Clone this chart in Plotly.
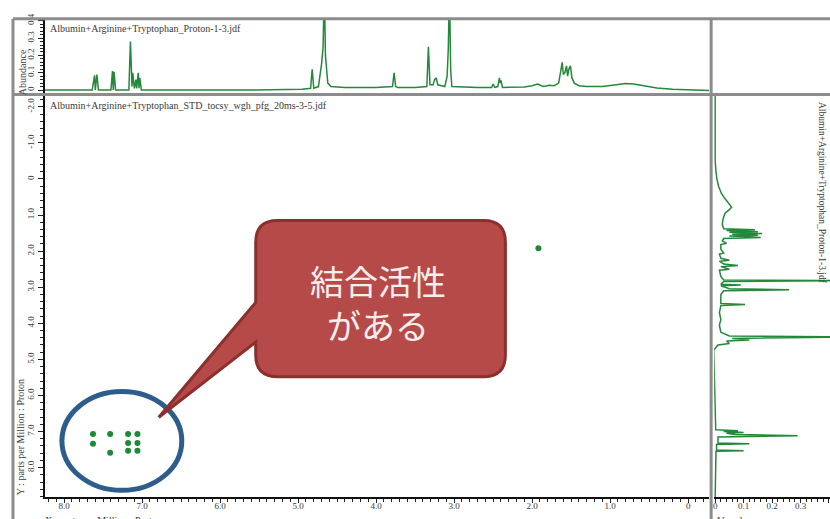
import plotly.graph_objects as go

W, H = 830, 519

# 1H spectrum projected along the top (F2 ppm, abundance)
top_ppm = [8.25, 7.64, 7.61, 7.60, 7.58, 7.56, 7.40, 7.38, 7.37, 7.36, 7.34,
           7.17, 7.15, 7.13, 7.12, 7.10, 7.08, 7.07, 7.05, 7.04, 7.03, 7.01,
           5.60, 5.20, 4.95, 4.84, 4.82, 4.80, 4.74, 4.70, 4.68, 4.665, 4.65,
           4.62, 4.58, 4.40, 4.00, 3.79, 3.77, 3.75, 3.72, 3.50, 3.35, 3.33,
           3.31, 3.27, 3.25, 3.23, 3.21, 3.12, 3.09, 3.075, 3.06, 3.045, 3.03,
           2.70, 2.52, 2.50, 2.48, 2.44, 2.42, 2.41, 2.40, 2.38, 2.10, 2.00,
           1.93, 1.88, 1.85, 1.78, 1.72, 1.66, 1.63, 1.615, 1.60, 1.58, 1.56,
           1.545, 1.53, 1.51, 1.49, 1.46, 1.40, 1.30, 1.10, 0.95, 0.80, 0.70,
           0.55, 0.40, 0.20, 0.00, -0.27]
top_abund = [0.0, 0.0, 0.085, 0.0, 0.09, 0.0, 0.0, 0.11, 0.0, 0.105, 0.0,
             0.0, 0.28, 0.02, 0.10, 0.01, 0.06, 0.01, 0.10, 0.01, 0.07, 0.0,
             0.0, 0.002, 0.005, 0.01, 0.12, 0.01, 0.02, 0.15, 0.25, 0.6, 0.2,
             0.04, 0.02, 0.015, 0.015, 0.02, 0.10, 0.02, 0.015, 0.015, 0.02, 0.25,
             0.03, 0.03, 0.06, 0.07, 0.03, 0.02, 0.08, 0.24, 0.6, 0.12, 0.02,
             0.015, 0.015, 0.035, 0.015, 0.02, 0.07, 0.04, 0.055, 0.015, 0.018, 0.025,
             0.035, 0.025, 0.02, 0.028, 0.025, 0.04, 0.14, 0.16, 0.09, 0.10, 0.14,
             0.08, 0.12, 0.14, 0.07, 0.04, 0.025, 0.02, 0.02, 0.03, 0.038, 0.035,
             0.022, 0.012, 0.004, 0.0, -0.002]

# 1H spectrum projected along the right side (F1 ppm, abundance)
side_ppm = [-2.30, -0.50, -0.20, 0.00, 0.20, 0.40, 0.55, 0.70, 0.78, 0.85,
            0.95, 1.10, 1.25, 1.38, 1.41, 1.43, 1.46, 1.48, 1.51, 1.53, 1.56,
            1.58, 1.62, 1.65, 1.72, 1.78, 1.82, 1.95, 2.05, 2.08, 2.20, 2.25,
            2.28, 2.36, 2.40, 2.43, 2.50, 2.53, 2.70, 2.80, 2.82, 2.84, 2.92,
            2.94, 2.96, 3.04, 3.07, 3.10, 3.20, 3.45, 3.48, 3.51, 3.70, 3.90,
            4.05, 4.25, 4.35, 4.38, 4.42, 4.46, 4.49, 4.56, 4.60, 4.75, 5.50,
            6.50, 6.95, 6.98, 7.00, 7.03, 7.05, 7.08, 7.12, 7.15, 7.32, 7.34,
            7.36, 7.51, 7.53, 7.55, 8.82]
side_abund = [0.0, 0.0, 0.003, 0.006, 0.012, 0.022, 0.035, 0.05, 0.058, 0.05,
              0.035, 0.028, 0.025, 0.03, 0.14, 0.04, 0.15, 0.05, 0.165, 0.06, 0.15,
              0.05, 0.16, 0.03, 0.025, 0.04, 0.02, 0.02, 0.03, 0.015, 0.02, 0.05,
              0.015, 0.03, 0.08, 0.02, 0.05, 0.015, 0.02, 0.03, 0.50, 0.03, 0.02,
              0.09, 0.02, 0.05, 0.26, 0.03, 0.02, 0.02, 0.105, 0.02, 0.015, 0.02,
              0.015, 0.02, 0.05, 0.50, 0.06, 0.12, 0.04, 0.05, 0.01, -0.005, -0.002,
              0.0, 0.002, 0.08, 0.03, 0.10, 0.04, 0.07, 0.29, 0.01, 0.01, 0.12,
              0.005, 0.005, 0.10, 0.003, 0.0]

# STD-TOCSY correlation peaks (F2 ppm, F1 ppm)
peak_f2 = [7.63, 7.63, 7.41, 7.41, 7.18, 7.18, 7.18, 7.06, 7.06, 7.06, 1.92]
peak_f1 = [7.07, 7.34, 7.07, 7.59, 7.07, 7.32, 7.53, 7.07, 7.32, 7.53, 1.92]

ppm_x_ticks = [8, 7, 6, 5, 4, 3, 2, 1, 0]
ppm_x_text = ["8.0", "7.0", "6.0", "5.0", "4.0", "3.0", "2.0", "1.0", "0"]
ppm_y_ticks = [-2, -1, 0, 1, 2, 3, 4, 5, 6, 7, 8]
ppm_y_text = ["-2.0", "-1.0", "0", "1.0", "2.0", "3.0", "4.0", "5.0", "6.0", "7.0", "8.0"]
abund_ticks = [0, 0.1, 0.2, 0.3, 0.4]
abund_text = ["0", "0.1", "0.2", "0.3", "0.4"]

GREEN = "#23883a"
FRAME = "#8c8c8c"
SERIF = "Liberation Serif"
TXT = "#3a3a3a"


def px(x):
    return x / W


def py(y):
    return 1 - y / H


fig = go.Figure()

fig.add_trace(go.Scatter(x=top_ppm, y=top_abund, mode="lines",
                         line=dict(color=GREEN, width=1.5),
                         xaxis="x2", yaxis="y2", hoverinfo="skip"))
fig.add_trace(go.Scatter(x=side_abund, y=side_ppm, mode="lines",
                         line=dict(color=GREEN, width=1.5),
                         xaxis="x3", yaxis="y3", hoverinfo="skip"))
fig.add_trace(go.Scatter(x=peak_f2, y=peak_f1, mode="markers",
                         marker=dict(symbol="circle", size=6, color="#1c8a36",
                                     line=dict(width=0)),
                         xaxis="x", yaxis="y", hoverinfo="skip"))

tick_font = dict(family=SERIF, size=9, color=TXT)
minor_x = dict(ticks="outside", ticklen=3, dtick=0.1, tickcolor="#222")
main_x_range = [(688 - 44) / 78.1, (688 - 709) / 78.1]
main_y_range = [(497 - 175) / 36.5, (91 - 175) / 36.5]

fig.update_layout(
    width=W, height=H,
    margin=dict(l=0, r=0, t=0, b=0),
    paper_bgcolor="white", plot_bgcolor="white",
    showlegend=False,
    xaxis=dict(domain=[px(44), px(709)], anchor="y", range=main_x_range,
               showgrid=False, zeroline=False, showline=True, linecolor="#111",
               linewidth=2, ticks="outside", ticklen=4, tickcolor="#222",
               tickvals=ppm_x_ticks, ticktext=ppm_x_text, tickfont=tick_font,
               ticklabelstandoff=-5, minor=minor_x),
    yaxis=dict(domain=[py(497), py(91)], anchor="x", range=main_y_range,
               showgrid=False, zeroline=False, showline=True, linecolor="#111",
               linewidth=2, ticks="outside", ticklen=5, tickcolor="#222",
               tickvals=ppm_y_ticks, ticktext=ppm_y_text, tickfont=tick_font,
               tickangle=-90,
               minor=dict(ticks="outside", ticklen=3, dtick=0.2, tickcolor="#222")),
    xaxis2=dict(domain=[px(44), px(709)], anchor="y2", range=main_x_range,
                showgrid=False, zeroline=False, showline=False,
                showticklabels=False, ticks=""),
    yaxis2=dict(domain=[py(88), py(14)], anchor="x2",
                range=[-0.017, (85 - 14) / 175],
                showgrid=False, zeroline=False, showline=True, linecolor="#111",
                linewidth=2, ticks="outside", ticklen=5, tickcolor="#222",
                tickvals=abund_ticks, ticktext=abund_text, tickfont=tick_font,
                tickangle=-90,
                minor=dict(ticks="outside", ticklen=3, dtick=0.02, tickcolor="#222")),
    xaxis3=dict(domain=[px(714), 1.0], anchor="y3",
                range=[(714 - 715) / 285, (830 - 715) / 285],
                showgrid=False, zeroline=False, showline=True, linecolor="#111",
                linewidth=2, ticks="outside", ticklen=4, tickcolor="#222",
                tickvals=abund_ticks, ticktext=abund_text, tickfont=tick_font,
                ticklabelstandoff=-5,
                minor=dict(ticks="outside", ticklen=3, dtick=0.02, tickcolor="#222")),
    yaxis3=dict(domain=[py(497), py(91)], anchor="x3", range=main_y_range,
                showgrid=False, zeroline=False, showline=False,
                showticklabels=False, ticks=""),
)

# panel frame
frame_lines = [
    (12, 13, 830, 13),
    (12, 13, 12, 519),
    (12, 89.5, 830, 89.5),
    (711, 13, 711, 519),
]
for x0, y0, x1, y1 in frame_lines:
    fig.add_shape(type="line", xref="paper", yref="paper",
                  x0=px(x0), y0=py(y0), x1=px(x1), y1=py(y1),
                  line=dict(color=FRAME, width=3), layer="above")

# highlight ring around the aromatic correlations
fig.add_shape(type="circle", xref="paper", yref="paper",
              x0=px(61), x1=px(181), y0=py(490), y1=py(390),
              line=dict(color="#2e5d8c", width=5), layer="above")

# speech-bubble callout
bubble = [("M", 277, 217), ("L", 483, 217), ("Q", 505, 217, 505, 239),
          ("L", 505, 353), ("Q", 505, 375, 483, 375), ("L", 277, 375),
          ("Q", 255, 375, 255, 353), ("L", 255, 340), ("L", 158, 416),
          ("L", 255, 300), ("L", 255, 239), ("Q", 255, 217, 277, 217)]
parts = []
for seg in bubble:
    cmd, nums = seg[0], seg[1:]
    pts = []
    for i in range(0, len(nums), 2):
        pts.append(f"{px(nums[i]):.5f},{py(nums[i + 1]):.5f}")
    parts.append(cmd + " " + " ".join(pts))
fig.add_shape(type="path", xref="paper", yref="paper",
              path=" ".join(parts) + " Z",
              fillcolor="#b64a48", line=dict(color="#8c302e", width=3),
              layer="above")

fig.add_annotation(text="結合活性<br>がある", xref="paper", yref="paper",
                   x=px(377), y=py(300), showarrow=False, align="center",
                   font=dict(family="Noto Sans CJK JP", size=34, color="#f7eded"),
                   xanchor="center", yanchor="middle")

# file names and axis captions
label_font = dict(family=SERIF, size=10, color=TXT)
fig.add_annotation(text="Albumin+Arginine+Tryptophan_Proton-1-3.jdf",
                   xref="paper", yref="paper", x=px(47), y=py(23),
                   xanchor="left", yanchor="middle", showarrow=False,
                   font=label_font)
fig.add_annotation(text="Albumin+Arginine+Tryptophan_STD_tocsy_wgh_pfg_20ms-3-5.jdf",
                   xref="paper", yref="paper", x=px(47), y=py(101),
                   xanchor="left", yanchor="middle", showarrow=False,
                   font=label_font)
fig.add_annotation(text="Albumin+Arginine+Tryptophan_Proton-1-3.jdf",
                   xref="paper", yref="paper", x=px(822), y=py(95),
                   xanchor="center", yanchor="top", textangle=90,
                   showarrow=False, font=dict(family=SERIF, size=9.5, color=TXT))
fig.add_annotation(text="Abundance", xref="paper", yref="paper",
                   x=px(21), y=py(67), xanchor="center", yanchor="middle",
                   textangle=-90, showarrow=False, font=label_font)
fig.add_annotation(text="Y : parts per Million : Proton", xref="paper", yref="paper",
                   x=px(19), y=py(497), xanchor="center", yanchor="bottom",
                   textangle=-90, showarrow=False, font=label_font)
fig.add_annotation(text="X : parts per Million : Proton", xref="paper", yref="paper",
                   x=px(42), y=py(513), xanchor="left", yanchor="top",
                   showarrow=False, font=label_font)
fig.add_annotation(text="Abundance", xref="paper", yref="paper",
                   x=px(713), y=py(513), xanchor="left", yanchor="top",
                   showarrow=False, font=label_font)

fig.write_html("out.html")
